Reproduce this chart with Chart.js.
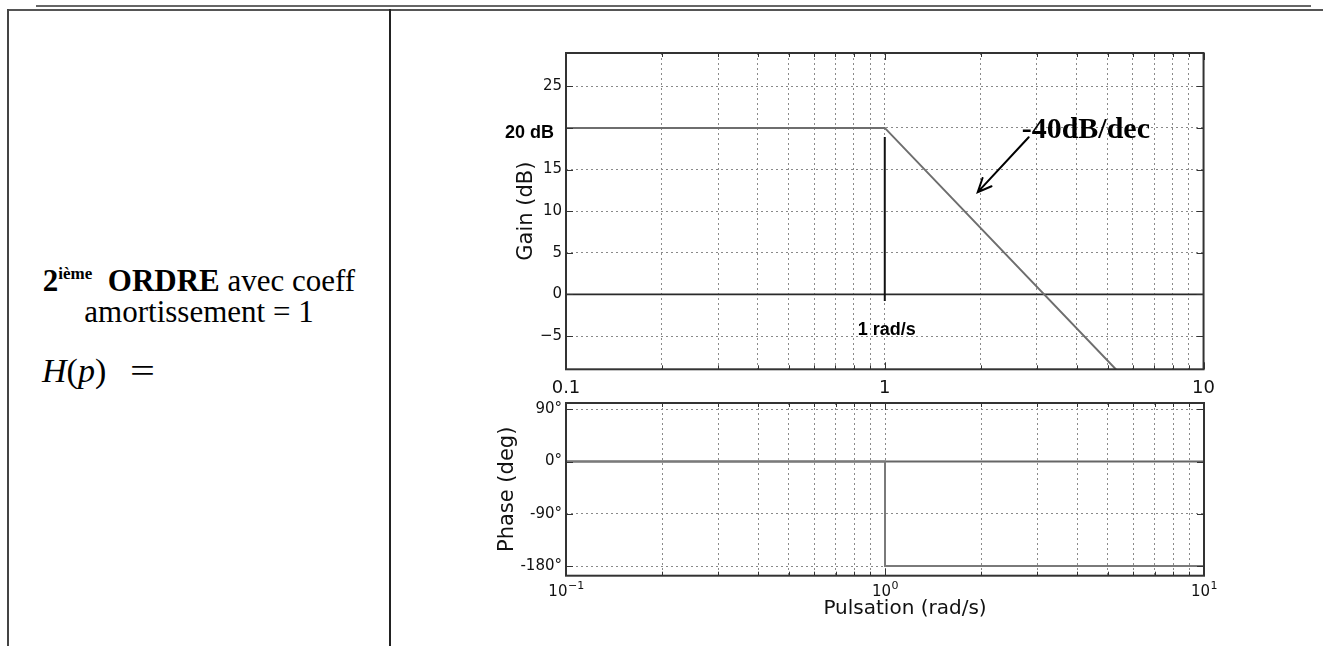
<!DOCTYPE html>
<html>
<head>
<meta charset="utf-8">
<script src="https://cdn.jsdelivr.net/npm/chart.js@4.4.1/dist/chart.umd.min.js"></script>
<style>
html,body{margin:0;padding:0;background:#fff;}
body{width:1323px;height:646px;position:relative;overflow:hidden;}
.ln{position:absolute;background:#444;}
.wrap{position:absolute;}
.cell{position:absolute;font-family:"Liberation Serif","Times New Roman",serif;color:#000;white-space:nowrap;}
</style>
</head>
<body>
<div class="ln" style="left:36px;top:5px;width:1275px;height:2px;background:#666"></div>
<div class="ln" style="left:7px;top:9px;width:1316px;height:2px;background:#555"></div>
<div class="ln" style="left:7px;top:9px;width:2px;height:637px;"></div>
<div class="ln" style="left:389px;top:9px;width:2px;height:637px;background:#222"></div>

<div class="cell" style="left:9px;width:380px;top:268px;text-align:center;font-size:31px;line-height:26px;">
<b>2<span style="position:relative;top:-12px;font-size:17px;">ième</span>&nbsp; ORDRE</b> avec coeff<br>amortissement = 1
</div>
<div class="cell" style="left:42px;top:352px;font-size:34px;line-height:38px;"><i>H</i>(<i>p</i>)<span style="display:inline-block;margin-left:24px;transform:scaleX(1.3);transform-origin:left center;">=</span></div>

<div class="wrap" style="left:480px;top:40px;width:743px;height:360px;"><canvas id="gain" width="743" height="360"></canvas></div>
<div class="wrap" style="left:480px;top:390px;width:743px;height:256px;"><canvas id="phase" width="743" height="256"></canvas></div>

<script>
// ---- data ----
const xTicks = [0.1,0.2,0.3,0.4,0.5,0.6,0.7,0.8,0.9,1,2,3,4,5,6,7,8,9,10];
const xMajor = [0.1,1,10];
const gainXLabels = {'0.1':'0.1','1':'1','10':'10'};
const phaseXBase = '10';
const phaseXExp = {'0.1':'\u22121','1':'0','10':'1'};
const gainYTicks = [-5,0,5,10,15,20,25];
const phaseYTicks = [90,0,-90,-180];

const gainW = [0.1, 1, 10];
const gainDb = [20, 20, -20];
const zeroW = [0.1, 10];
const zeroDb = [0, 0];
const markerW = [1, 1];
const markerDb = [18.9, -0.8];

const phaseW = [0.1, 1, 1, 10];
const phaseDeg = [0, 0, -180, -180];
const phaseRefW = [0.1, 10];
const phaseRefDeg = [0, 0];

// annotations (data coordinates)
const slopeLabel = {text:'-40dB/dec', w:2.688, db:18.77};
const arrowFrom = {w:2.828, db:18.88};
const arrowTo = {w:1.957, db:12.28};
const freqLabel = {text:'1 rad/s', w:0.823, db:-4.89};
const levelLabel = {text:'20 dB', db:20};

const pts = (xs, ys) => xs.map((x,i)=>({x:x, y:ys[i]}));
const TICK_FONT = '"DejaVu Sans", Verdana, sans-serif';

function drawFrame(chart, yTicks){
  const {ctx, chartArea:a, scales:{x,y}} = chart;
  ctx.save();
  ctx.strokeStyle = '#333';
  ctx.lineWidth = 1;
  ctx.beginPath();
  xTicks.forEach(v=>{
    const px = Math.round(x.getPixelForValue(v)) + 0.5;
    const L = xMajor.includes(v) ? 7 : 4;
    ctx.moveTo(px, a.top); ctx.lineTo(px, a.top + L);
    ctx.moveTo(px, a.bottom); ctx.lineTo(px, a.bottom - L);
  });
  yTicks.forEach(v=>{
    const py = Math.round(y.getPixelForValue(v)) + 0.5;
    ctx.moveTo(a.left, py); ctx.lineTo(a.left + 7, py);
    ctx.moveTo(a.right, py); ctx.lineTo(a.right - 7, py);
  });
  ctx.stroke();
  ctx.lineWidth = 2;
  ctx.strokeStyle = '#333';
  ctx.strokeRect(a.left, a.top, a.right - a.left, a.bottom - a.top);
  ctx.restore();
}

function baseOptions(cfg){
  return {
    responsive:false, animation:false, devicePixelRatio:1,
    layout:{padding:cfg.pad},
    plugins:{legend:{display:false}, tooltip:{enabled:false}, title:{display:false}},
    scales:{
      x:{
        type:'logarithmic', min:0.1, max:10, position:'bottom',
        afterBuildTicks: s => { s.ticks = xTicks.map(v=>({value:v})); },
        afterFit: s => { s.height = cfg.xAxisH; },
        ticks:{autoSkip:false, maxRotation:0, minRotation:0, padding:cfg.xPad, color:'#111',
               font:{family:TICK_FONT, size:cfg.xSize},
               callback: v => (cfg.xLabels[String(v)] !== undefined ? cfg.xLabels[String(v)] : '')},
        grid:{color:'#8a8a8a', lineWidth:1, drawTicks:false},
        border:{display:false, dash:[2,3]}
      },
      y:{
        type:'linear', min:cfg.yMin, max:cfg.yMax, position:'left',
        afterBuildTicks: s => { s.ticks = cfg.yTicks.map(v=>({value:v})); },
        afterFit: s => { s.width = cfg.yAxisW; },
        ticks:{autoSkip:false, padding:4, color:'#111', font:{family:TICK_FONT, size:cfg.ySize},
               callback: cfg.yFmt},
        grid:{color:'#8a8a8a', lineWidth:1, drawTicks:false},
        border:{display:false, dash:[2,3]}
      }
    }
  };
}

function lineDs(data, color, width){
  return {data:data, showLine:true, borderColor:color, borderWidth:width, pointRadius:0,
          fill:false, tension:0, clip:0};
}

// ---- gain chart ----
const gainPlugin = {
  id:'gainDeco',
  afterDatasetsDraw(chart){
    drawFrame(chart, gainYTicks);
    const {ctx, chartArea:a, scales:{x,y}} = chart;
    ctx.save();
    ctx.fillStyle = '#000';
    // 20 dB label
    ctx.font = 'bold 18px "Liberation Sans", Arial, sans-serif';
    ctx.textAlign = 'right'; ctx.textBaseline = 'alphabetic';
    ctx.fillText(levelLabel.text, a.left - 12, y.getPixelForValue(levelLabel.db) + 10);
    // 1 rad/s label
    ctx.textAlign = 'left';
    ctx.fillText(freqLabel.text, x.getPixelForValue(freqLabel.w), y.getPixelForValue(freqLabel.db));
    // slope label
    ctx.font = 'bold 30px "Liberation Serif", "Times New Roman", serif';
    ctx.fillText(slopeLabel.text, x.getPixelForValue(slopeLabel.w), y.getPixelForValue(slopeLabel.db));
    // arrow
    const x1 = x.getPixelForValue(arrowFrom.w), y1 = y.getPixelForValue(arrowFrom.db);
    const x2 = x.getPixelForValue(arrowTo.w), y2 = y.getPixelForValue(arrowTo.db);
    const ang = Math.atan2(y2 - y1, x2 - x1);
    const hl = 15, ha = 0.42;
    ctx.strokeStyle = '#000'; ctx.lineWidth = 2; ctx.lineCap = 'round';
    ctx.beginPath();
    ctx.moveTo(x1, y1); ctx.lineTo(x2, y2);
    ctx.moveTo(x2 - hl*Math.cos(ang - ha), y2 - hl*Math.sin(ang - ha));
    ctx.lineTo(x2, y2);
    ctx.lineTo(x2 - hl*Math.cos(ang + ha), y2 - hl*Math.sin(ang + ha));
    ctx.stroke();
    // axis title
    ctx.font = '21px ' + TICK_FONT;
    ctx.fillStyle = '#111';
    ctx.translate(a.left - 39, (a.top + a.bottom)/2);
    ctx.rotate(-Math.PI/2);
    ctx.textAlign = 'center'; ctx.textBaseline = 'middle';
    ctx.fillText('Gain (dB)', 0, 0);
    ctx.restore();
  }
};

new Chart(document.getElementById('gain'), {
  type:'scatter',
  data:{datasets:[
    lineDs(pts(markerW, markerDb), '#111', 2),
    lineDs(pts(gainW, gainDb), '#6e6e6e', 2),
    lineDs(pts(zeroW, zeroDb), '#2a2a2a', 1.6)
  ]},
  options: baseOptions({
    pad:{left:0, top:12.7, right:19, bottom:0},
    yAxisW:86, xAxisH:30.7,
    xPad:8, xSize:18, xLabels:gainXLabels,
    yMin:-9, yMax:29, yTicks:gainYTicks, ySize:15,
    yFmt: v => (v === 20 ? '' : (v < 0 ? '\u2212' + Math.abs(v) : String(v)))
  }),
  plugins:[gainPlugin]
});

// ---- phase chart ----
const phasePlugin = {
  id:'phaseDeco',
  afterDatasetsDraw(chart){
    drawFrame(chart, phaseYTicks);
    const {ctx, chartArea:a, scales:{x}} = chart;
    ctx.save();
    ctx.fillStyle = '#111';
    // decade labels 10^n
    ctx.textBaseline = 'alphabetic'; ctx.textAlign = 'left';
    xMajor.forEach(v => {
      const exp = phaseXExp[String(v)];
      ctx.font = '15px ' + TICK_FONT;
      const wb = ctx.measureText(phaseXBase).width;
      ctx.font = '11px ' + TICK_FONT;
      const we = ctx.measureText(exp).width;
      const left = x.getPixelForValue(v) - (wb + we)/2;
      const base = a.bottom + 20;
      ctx.font = '15px ' + TICK_FONT;
      ctx.fillText(phaseXBase, left, base);
      ctx.font = '11px ' + TICK_FONT;
      ctx.fillText(exp, left + wb + 0.5, base - 7);
    });
    ctx.textAlign = 'center'; ctx.textBaseline = 'middle';
    ctx.font = '20px ' + TICK_FONT;
    ctx.fillText('Pulsation (rad/s)', (a.left + a.right)/2 + 20, a.bottom + 33);
    ctx.font = '21px ' + TICK_FONT;
    ctx.translate(a.left - 58, (a.top + a.bottom)/2);
    ctx.rotate(-Math.PI/2);
    ctx.fillText('Phase (deg)', 0, 0);
    ctx.restore();
  }
};

new Chart(document.getElementById('phase'), {
  type:'scatter',
  data:{datasets:[
    lineDs(pts(phaseW, phaseDeg), '#7a7a7a', 2),
    lineDs(pts(phaseRefW, phaseRefDeg), '#666', 2)
  ]},
  options: baseOptions({
    pad:{left:0, top:10.7, right:19, bottom:0},
    yAxisW:86, xAxisH:70.3,
    xPad:6, xSize:14, xLabels:{},
    yMin:-196.5, yMax:100.7, yTicks:phaseYTicks, ySize:15,
    yFmt: v => v + '\u00B0'
  }),
  plugins:[phasePlugin]
});
</script>
</body>
</html>
